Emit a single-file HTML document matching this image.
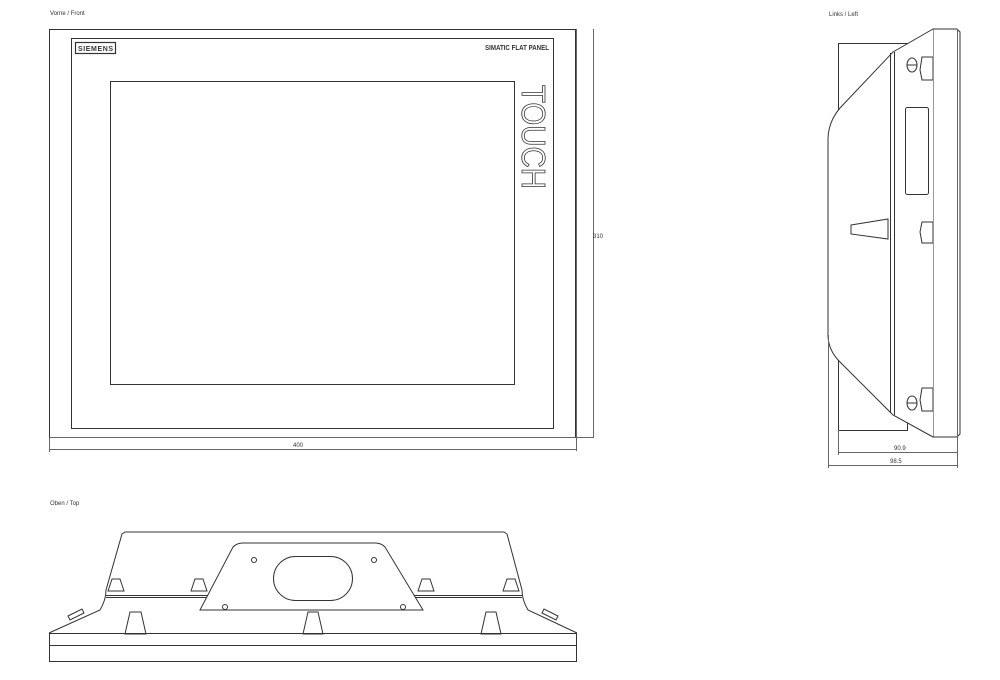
<!DOCTYPE html>
<html><head><meta charset="utf-8"><style>
html,body{margin:0;padding:0;background:#fff;}
svg{display:block;}
text{font-family:"Liberation Sans",sans-serif;}
</style></head><body>
<svg width="1000" height="680" viewBox="0 0 1000 680" xmlns="http://www.w3.org/2000/svg">
<g fill="none" stroke="#333" stroke-width="1">
<!-- FRONT -->
<rect x="49.5" y="29.5" width="526" height="408"/>
<rect x="71.5" y="38.5" width="482" height="390"/>
<rect x="110.5" y="81.5" width="404" height="303"/>
<rect x="75.5" y="42.5" width="40" height="11" stroke-width="1.2"/>
<line x1="576.5" y1="29" x2="576.5" y2="451" stroke="#666"/>
<line x1="593.5" y1="29" x2="593.5" y2="438" stroke="#666"/>
<line x1="49" y1="437.5" x2="594" y2="437.5" stroke="#666"/>
<line x1="49.5" y1="437" x2="49.5" y2="452" stroke="#666"/>
<line x1="49" y1="449.5" x2="576" y2="449.5" stroke="#666"/>
<!-- SIDE -->
<rect x="838.5" y="43.5" width="69" height="387"/>
<path d="M933,29 L957,29 L960,32 L960,434 L957,437 L933,437 Z" fill="#fff"/>
<line x1="957.5" y1="29" x2="957.5" y2="468" stroke="#666"/>
<path d="M933,29 L893,52 L840,108 Q828,122 828,140 L828,335 Q828,350 840,362 L893,415 L933,437" fill="#fff"/>
<line x1="890.5" y1="53" x2="890.5" y2="413"/>
<line x1="894.5" y1="52" x2="894.5" y2="415"/>
<rect x="905.5" y="107.5" width="23" height="87" rx="2"/>
<path d="M922,57 L933,57 L933,80 L922,80 L920,70 Z"/>
<path d="M922,222 L933,222 L933,243 L922,243 L920,232 Z"/>
<path d="M922,388 L933,388 L933,411 L922,411 L920,400 Z"/>
<ellipse cx="912" cy="65" rx="5" ry="7"/><line x1="907" y1="65" x2="917" y2="65"/>
<ellipse cx="912" cy="403" rx="5" ry="7"/><line x1="907" y1="403" x2="917" y2="403"/>
<path d="M851,225 L888,219 L888,239 L851,234 Z"/>
<line x1="838.5" y1="430" x2="838.5" y2="455" stroke="#666"/>
<line x1="828.5" y1="335" x2="828.5" y2="468" stroke="#666"/>
<line x1="838" y1="452.5" x2="958" y2="452.5" stroke="#666"/>
<line x1="828" y1="465.5" x2="958" y2="465.5" stroke="#666"/>
<!-- TOP -->
<rect x="49.5" y="633.5" width="527" height="28"/>
<line x1="49" y1="645.5" x2="577" y2="645.5"/>
<path d="M49,633 L100,610 Q106,600 106,590 L122,534 L125,532 L504,532 L507,534 L522,590 Q522,600 528,610 L577,633"/>
<line x1="106" y1="595.5" x2="522" y2="595.5"/>
<line x1="106" y1="597.5" x2="522" y2="597.5"/>
<path d="M200,610 L233,547 Q237,543 243,543 L375,543 Q381,543 385,547 L423,610 Z" fill="#fff"/>
<rect x="273.5" y="556.5" width="79" height="44" rx="22"/>
<circle cx="254" cy="560" r="2.5"/><circle cx="374" cy="560" r="2.5"/>
<circle cx="225" cy="607" r="2.5"/><circle cx="403" cy="607" r="2.5"/>
<path d="M108,591 L112,579 L120,579 L124,591 Z"/>
<path d="M191,591 L195,579 L203,579 L207,591 Z"/>
<path d="M418,591 L422,579 L430,579 L434,591 Z"/>
<path d="M503,591 L507,579 L515,579 L519,591 Z"/>
<path d="M125,634 L130,612 L141,612 L146,634 Z"/>
<path d="M303,634 L308,612 L318,612 L323,634 Z"/>
<path d="M481,634 L486,612 L496,612 L501,634 Z"/>
<path d="M68,616 L82,609 L84,613 L70,620 Z"/>
<path d="M542,613 L544,609 L558,616 L556,620 Z"/>
</g>
<g font-size="6" fill="#333">
<text x="50" y="15">Vorne / Front</text>
<text x="829" y="16">Links / Left</text>
<text x="50" y="505">Oben / Top</text>
<text x="293" y="447">400</text>
<text x="593" y="238">310</text>
<text x="894" y="450">90.9</text>
<text x="890" y="463">98.5</text>
<text x="78" y="51" font-size="7" font-weight="bold" textLength="35">SIEMENS</text>
<text x="549" y="50" font-size="7" font-weight="bold" text-anchor="end" textLength="64" lengthAdjust="spacingAndGlyphs">SIMATIC FLAT PANEL</text>
</g>
<text transform="translate(522,85) rotate(90)" font-size="33" fill="#fff" stroke="#333" stroke-width="0.8" textLength="104" lengthAdjust="spacingAndGlyphs">TOUCH</text>
</svg>
</body></html>
